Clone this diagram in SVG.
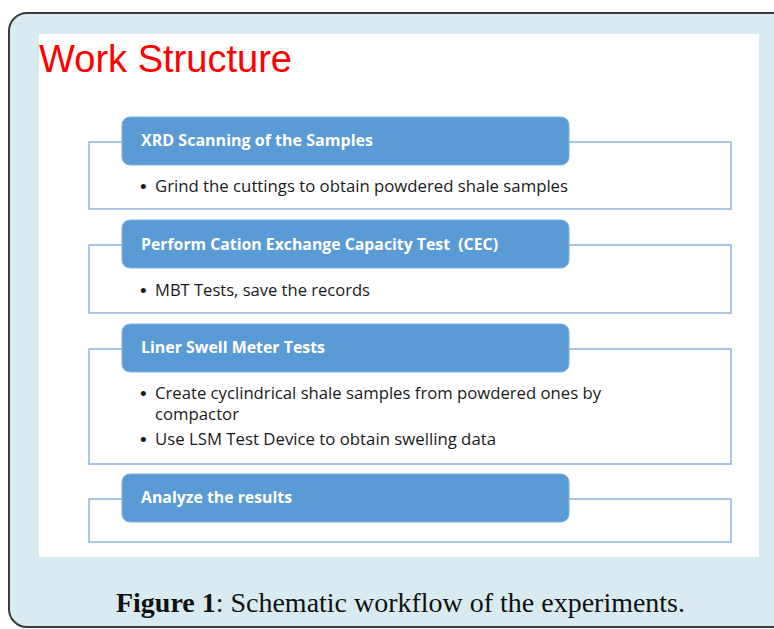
<svg xmlns="http://www.w3.org/2000/svg" width="774" height="629" viewBox="0 0 774 629">
<style>
.frame{fill:#d8ebf0;stroke:#3a3a3a;stroke-width:2}
.panel{fill:#ffffff}
.outline{fill:#ffffff;stroke:#8db4e2;stroke-width:1.5}
.head{fill:#5b9bd5;stroke:#7fb0de;stroke-width:1}
.htxt{font-family:"Open Sans","Liberation Sans",sans-serif;font-weight:bold;font-size:16px;fill:#ffffff}
.btxt{font-family:"Open Sans","Liberation Sans",sans-serif;font-size:16px;fill:#1a1a1a}
.dot{font-family:"Liberation Sans",sans-serif;font-size:19px;fill:#1a1a1a}
.title{font-family:"Liberation Sans",Arial,sans-serif;font-size:38px;fill:#ff0000}
.cap{font-family:"Liberation Serif","DejaVu Serif",serif;font-size:27px;fill:#111111}
</style>
<rect class="frame" x="9" y="13" width="800" height="614" rx="18"/>
<rect class="panel" x="39" y="34" width="720" height="523"/>
<text class="title" x="39" y="72" textLength="253" lengthAdjust="spacingAndGlyphs">Work Structure</text>
<g id="connectors"></g>
<g id="step1">
<rect class="outline" x="89" y="142" width="642" height="67"/>
<rect class="head" x="122" y="117" width="447" height="48" rx="8"/>
<text class="htxt" x="141" y="146" textLength="232" lengthAdjust="spacingAndGlyphs">XRD Scanning of the Samples</text>
<text class="dot" x="140" y="193">•</text>
<text class="btxt" x="155" y="192" textLength="413" lengthAdjust="spacingAndGlyphs">Grind the cuttings to obtain powdered shale samples</text>
</g>
<g id="step2">
<rect class="outline" x="89" y="245" width="642" height="68"/>
<rect class="head" x="122" y="220" width="447" height="48" rx="8"/>
<text class="htxt" x="141" y="250" textLength="357" lengthAdjust="spacingAndGlyphs" xml:space="preserve">Perform Cation Exchange Capacity Test  (CEC)</text>
<text class="dot" x="140" y="297">•</text>
<text class="btxt" x="155" y="296" textLength="215" lengthAdjust="spacingAndGlyphs">MBT Tests, save the records</text>
</g>
<g id="step3">
<rect class="outline" x="89" y="349" width="642" height="115"/>
<rect class="head" x="122" y="324" width="447" height="48" rx="8"/>
<text class="htxt" x="141" y="353" textLength="184" lengthAdjust="spacingAndGlyphs">Liner Swell Meter Tests</text>
<text class="dot" x="140" y="400">•</text>
<text class="btxt" x="155" y="399" textLength="446" lengthAdjust="spacingAndGlyphs">Create cyclindrical shale samples from powdered ones by</text>
<text class="btxt" x="155" y="420" textLength="84" lengthAdjust="spacingAndGlyphs">compactor</text>
<text class="dot" x="140" y="446">•</text>
<text class="btxt" x="155" y="445" textLength="341" lengthAdjust="spacingAndGlyphs">Use LSM Test Device to obtain swelling data</text>
</g>
<g id="step4">
<rect class="outline" x="89" y="499" width="642" height="43"/>
<rect class="head" x="122" y="474" width="447" height="48" rx="8"/>
<text class="htxt" x="141" y="503" textLength="151" lengthAdjust="spacingAndGlyphs">Analyze the results</text>
</g>
<text class="cap" x="116" y="612" textLength="569" lengthAdjust="spacingAndGlyphs"><tspan font-weight="bold">Figure 1</tspan>: Schematic workflow of the experiments.</text>
</svg>
